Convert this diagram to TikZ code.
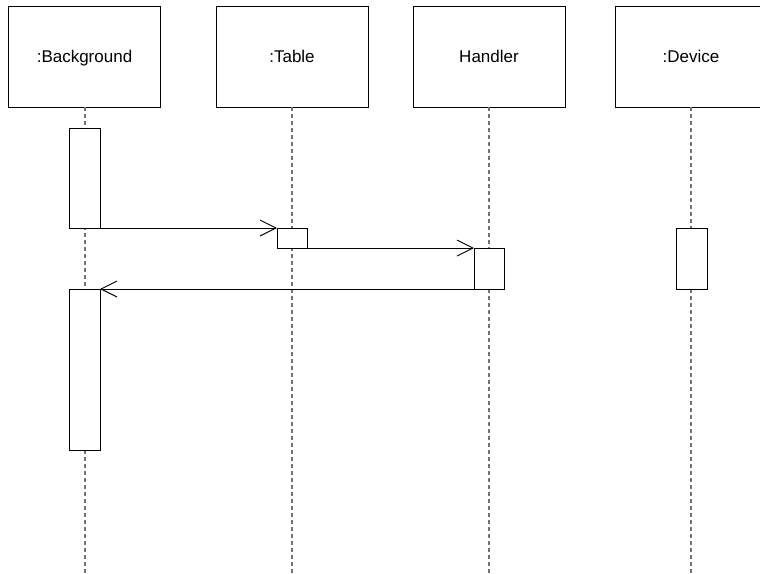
\documentclass[tikz,border=0pt]{standalone}
\usepackage{fontspec}
\setmainfont{Liberation Sans}
\usetikzlibrary{arrows.meta}
\begin{document}
\begin{tikzpicture}[x=1pt,y=-1pt,
  objbox/.style={draw, line width=0.9pt, fill=white, minimum width=152pt, minimum height=101pt,
    inner sep=0pt, outer sep=0pt},
  objlabel/.style={inner sep=0pt, text height=12.2pt, text depth=3.6pt, yshift=-2pt,
    font=\fontsize{17}{20}\selectfont},
  actbox/.style={draw, line width=0.9pt, fill=white, minimum width=31pt, inner sep=0pt, outer sep=0pt},
  lifeline/.style={draw=black!55, line width=1.3pt, dash pattern=on 4pt off 3pt},
  msg/.style={line width=0.9pt, -{Straight Barb[length=16pt, width=16pt, line width=0.9pt]}}]
\useasboundingbox (0,0) rectangle (760,573);
\clip (0,0) rectangle (760,573);

% object heads
\node[objbox] (bg) at (84.5,56.5) {};
\node[objbox] (tb) at (292,56.5) {};
\node[objbox] (hd) at (489,56.5) {};
\node[objbox] (dv) at (691,56.5) {};
\node[objlabel] (bgl) at (bg.center) {:Background};
\node[objlabel] (tbl) at (tb.center) {:Table};
\node[objlabel] (hdl) at (hd.center) {Handler};
\node[objlabel] (dvl) at (dv.center) {:Device};

% lifeline ends
\coordinate (bgtop) at (85,107);
\coordinate (bgend) at (85,573);
\coordinate (tbend) at (292,573);
\coordinate (hdend) at (489,573);
\coordinate (dvend) at (691,573);

\draw[lifeline] (bgtop) -- (bgend);
\draw[lifeline] (tb.south) -- (tbend);
\draw[lifeline] (hd.south) -- (hdend);
\draw[lifeline] (dv.south) -- (dvend);

% activation bars
\node[actbox, minimum height=100pt] (bg1) at (84.5,178) {};
\node[actbox, minimum height=161pt] (bg2) at (84.5,369.5) {};
\node[actbox, minimum width=30pt, minimum height=20pt] (tb1) at (292,238) {};
\node[actbox, minimum width=30pt, minimum height=41pt] (hd1) at (489,268.5) {};
\node[actbox, minimum height=61pt] (dv1) at (691.5,258.5) {};

% messages
\draw[msg] (bg1.south east) -- (tb1.north west);
\draw[msg] (tb1.south east) -- (hd1.north west);
\draw[msg] (hd1.south west) -- (bg2.north east);
\end{tikzpicture}
\end{document}
